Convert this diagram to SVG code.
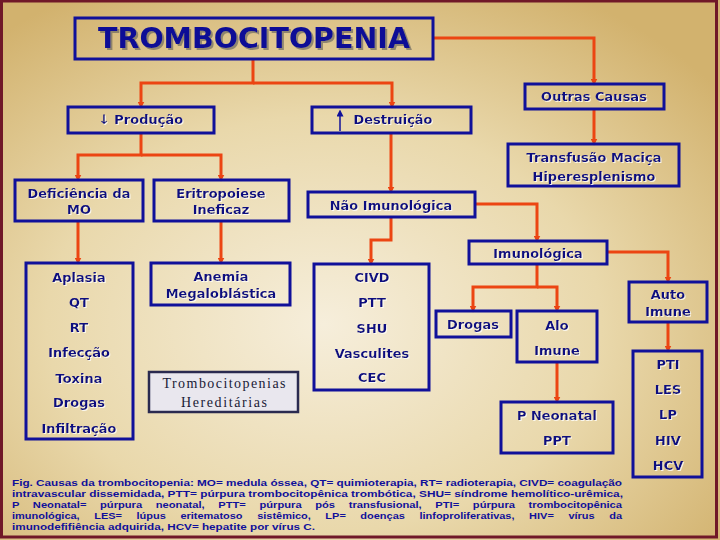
<svg xmlns="http://www.w3.org/2000/svg" width="720" height="540" viewBox="0 0 720 540">
<defs>
<radialGradient id="bg" cx="0.45" cy="0.6" r="0.7">
<stop offset="0" stop-color="#f6eedb"/>
<stop offset="0.55" stop-color="#e9d8ab"/>
<stop offset="1" stop-color="#d2b26e"/>
</radialGradient>
<marker id="ah" viewBox="0 0 8 8" markerWidth="7" markerHeight="7" refX="4" refY="4" orient="auto" markerUnits="userSpaceOnUse">
<path d="M0,0 L8,4 L0,8 z" fill="#ec4512"/>
</marker>
<marker id="bh" viewBox="0 0 8 8" markerWidth="7" markerHeight="7" refX="4" refY="4" orient="auto" markerUnits="userSpaceOnUse">
<path d="M0,0 L8,4 L0,8 z" fill="#10109a"/>
</marker>
<filter id="sh" x="-10%" y="-30%" width="120%" height="160%">
<feDropShadow dx="1" dy="1" stdDeviation="0.3" flood-color="#ffffff" flood-opacity="0.8"/>
</filter>
<filter id="tsh" x="-10%" y="-30%" width="120%" height="160%">
<feDropShadow dx="2" dy="2" stdDeviation="0.6" flood-color="#5a5a5a" flood-opacity="0.6"/>
</filter>
</defs>
<style>
.box{fill:none;stroke:#10109a;stroke-width:3}
.t{font-family:"DejaVu Sans","Liberation Sans",sans-serif;font-size:13px;font-weight:bold;fill:#0a0a80;text-anchor:middle;filter:url(#sh)}
.title{font-family:"DejaVu Sans","Liberation Sans",sans-serif;font-size:28px;font-weight:bold;fill:#0c0c96;text-anchor:middle;filter:url(#tsh)}
.c{fill:none;stroke:#ec4512;stroke-width:3;marker-end:url(#ah)}
.cap{font-family:"Liberation Sans",Arial,sans-serif;font-size:9.5px;font-weight:bold;fill:#10109a}
.ser{font-family:"Liberation Serif","Times New Roman",serif;font-size:14px;fill:#1a1a36;text-anchor:middle}
</style>
<rect x="0" y="0" width="720" height="540" fill="url(#bg)"/>
<rect x="1.5" y="1" width="715" height="536" fill="none" stroke="#701828" stroke-width="3"/>

<g id="connectors">
<path class="c" d="M253,59 V83 H141 V105"/>
<path class="c" d="M253,83 H392 V105"/>
<path class="c" d="M433,38 H594 V82"/>
<path class="c" d="M594,109 V142"/>
<path class="c" d="M141,133 V155 H78 V178"/>
<path class="c" d="M141,155 H221 V178"/>
<path class="c" d="M78,221 V261"/>
<path class="c" d="M221,221 V261"/>
<path class="c" d="M391,133 V190"/>
<path class="c" d="M391,217 V240 H371 V262"/>
<path class="c" d="M475,204 H537 V239"/>
<path class="c" d="M537,264 V287 H473 V309"/>
<path class="c" d="M537,287 H557 V309"/>
<path class="c" d="M607,252 H668 V280"/>
<path class="c" d="M668,322 V349"/>
<path class="c" d="M557,362 V400"/>
</g>

<g id="trombocitopenia">
<rect class="box" x="75" y="18" width="358" height="41"/>
<text class="title" x="254" y="48" textLength="312" lengthAdjust="spacingAndGlyphs">TROMBOCITOPENIA</text>
</g>

<g id="producao">
<rect class="box" x="68" y="107" width="146" height="26"/>
<text class="t" x="141" y="124">↓ Produção</text>
</g>

<g id="destruicao">
<rect class="box" x="312" y="107" width="159" height="26"/>
<line x1="340" y1="131" x2="340" y2="113" stroke="#10109a" stroke-width="1.5" marker-end="url(#bh)"/>
<text class="t" x="393" y="124">Destruição</text>
</g>

<g id="outras-causas">
<rect class="box" x="525" y="84" width="139" height="25"/>
<text class="t" x="594" y="101">Outras Causas</text>
</g>

<g id="transfusao">
<rect class="box" x="508" y="144" width="171" height="42"/>
<text class="t" x="594" y="162">Transfusão Maciça</text>
<text class="t" x="594" y="181">Hiperesplenismo</text>
</g>

<g id="deficiencia">
<rect class="box" x="15" y="180" width="128" height="41"/>
<text class="t" x="79" y="198">Deficiência da</text>
<text class="t" x="79" y="214">MO</text>
</g>

<g id="eritropoiese">
<rect class="box" x="154" y="180" width="135" height="41"/>
<text class="t" x="221" y="198">Eritropoiese</text>
<text class="t" x="221" y="214">Ineficaz</text>
</g>

<g id="nao-imunologica">
<rect class="box" x="308" y="192" width="167" height="25"/>
<text class="t" x="391" y="210">Não Imunológica</text>
</g>

<g id="imunologica">
<rect class="box" x="469" y="241" width="138" height="23"/>
<text class="t" x="538" y="258">Imunológica</text>
</g>

<g id="aplasia">
<rect class="box" x="26" y="263" width="107" height="176"/>
<text class="t" x="79" y="282">Aplasia</text>
<text class="t" x="79" y="307">QT</text>
<text class="t" x="79" y="332">RT</text>
<text class="t" x="79" y="357">Infecção</text>
<text class="t" x="79" y="383">Toxina</text>
<text class="t" x="79" y="407">Drogas</text>
<text class="t" x="79" y="433">Infiltração</text>
</g>

<g id="anemia">
<rect class="box" x="151" y="263" width="139" height="42"/>
<text class="t" x="221" y="281">Anemia</text>
<text class="t" x="221" y="298">Megaloblástica</text>
</g>

<g id="hereditarias">
<rect x="149" y="372" width="149" height="40" fill="#e9e7ee" stroke="#2a2a50" stroke-width="2.5"/>
<text class="ser" x="224" y="388" textLength="123" lengthAdjust="spacing">Trombocitopenias</text>
<text class="ser" x="224" y="407" textLength="86" lengthAdjust="spacing">Hereditárias</text>
</g>

<g id="civd">
<rect class="box" x="314" y="264" width="115" height="126"/>
<text class="t" x="372" y="282">CIVD</text>
<text class="t" x="372" y="307">PTT</text>
<text class="t" x="372" y="333">SHU</text>
<text class="t" x="372" y="358">Vasculites</text>
<text class="t" x="372" y="382">CEC</text>
</g>

<g id="drogas">
<rect class="box" x="436" y="311" width="75" height="26"/>
<text class="t" x="473" y="329">Drogas</text>
</g>

<g id="alo-imune">
<rect class="box" x="517" y="311" width="80" height="51"/>
<text class="t" x="557" y="330">Alo</text>
<text class="t" x="557" y="355">Imune</text>
</g>

<g id="p-neonatal">
<rect class="box" x="501" y="402" width="112" height="51"/>
<text class="t" x="557" y="420">P Neonatal</text>
<text class="t" x="557" y="445">PPT</text>
</g>

<g id="auto-imune">
<rect class="box" x="629" y="282" width="78" height="40"/>
<text class="t" x="668" y="299">Auto</text>
<text class="t" x="668" y="316">Imune</text>
</g>

<g id="pti">
<rect class="box" x="633" y="351" width="69" height="126"/>
<text class="t" x="668" y="369">PTI</text>
<text class="t" x="668" y="394">LES</text>
<text class="t" x="668" y="419">LP</text>
<text class="t" x="668" y="445">HIV</text>
<text class="t" x="668" y="470">HCV</text>
</g>

<g id="caption">
<text class="cap" x="12" y="486" textLength="610" lengthAdjust="spacingAndGlyphs">Fig. Causas da trombocitopenia: MO= medula óssea, QT= quimioterapia, RT= radioterapia, CIVD= coagulação</text>
<text class="cap" x="12" y="497" textLength="611" lengthAdjust="spacingAndGlyphs">intravascular dissemidada, PTT= púrpura trombocitopênica trombótica, SHU= síndrome hemolítico-urêmica,</text>
<text class="cap" x="12" y="508" textLength="610" lengthAdjust="spacingAndGlyphs" word-spacing="9">P Neonatal= púrpura neonatal, PTT= púrpura pós transfusional, PTI= púrpura trombocitopênica</text>
<text class="cap" x="12" y="519" textLength="610" lengthAdjust="spacingAndGlyphs" word-spacing="10">imunológica, LES= lúpus eritematoso sistêmico, LP= doenças linfoproliferativas, HIV= vírus da</text>
<text class="cap" x="12" y="530" textLength="303" lengthAdjust="spacingAndGlyphs">imunodefifiência adquirida, HCV= hepatite por vírus C.</text>
</g>
</svg>
